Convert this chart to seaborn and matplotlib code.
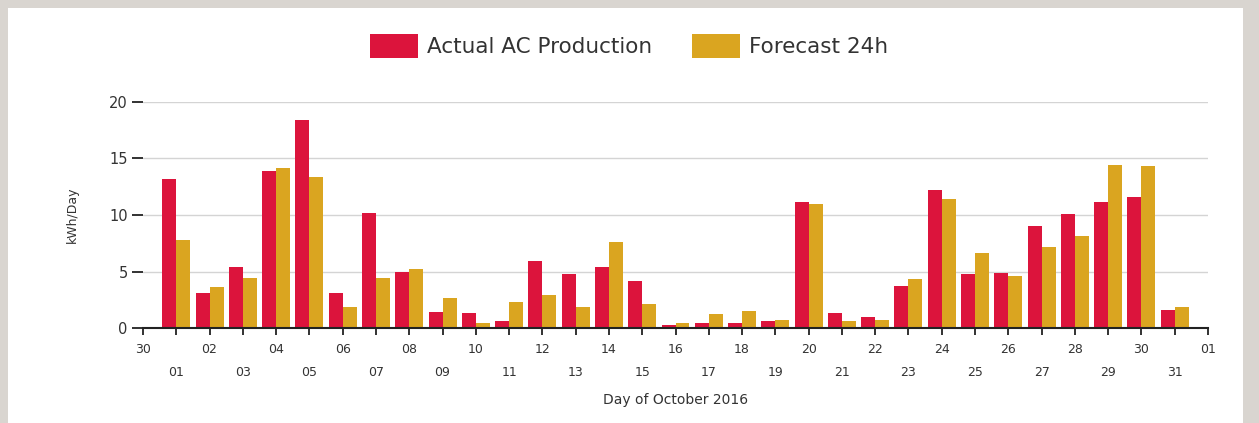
import pandas as pd
import matplotlib.pyplot as plt
import matplotlib.patches as mpatches
import seaborn as sns

# Datos diarios (octubre 2016)
days = list(range(1, 32))
actual = [13.2, 3.1, 5.4, 13.9, 18.4, 3.1, 10.2, 5.0, 1.4, 1.3,
          0.6, 5.95, 4.75, 5.4, 4.15, 0.3, 0.45, 0.45, 0.6, 11.15,
          1.3, 0.95, 3.7, 12.25, 4.75, 4.85, 9.0, 10.05, 11.15, 11.6, 1.55]
forecast = [7.75, 3.6, 4.45, 14.15, 13.35, 1.85, 4.45, 5.25, 2.65, 0.45,
            2.3, 2.95, 1.85, 7.6, 2.1, 0.45, 1.2, 1.5, 0.75, 11.0,
            0.6, 0.75, 4.3, 11.45, 6.6, 4.6, 7.2, 8.15, 14.45, 14.3, 1.85]
tick_labels = ["30"] + [f"{d:02d}" for d in days] + ["01"]

series_names = ["Actual AC Production", "Forecast 24h"]
colors = ["#DC143C", "#DAA520"]


def main():
    sns.set_style("white")
    plt.rcParams['font.family'] = ['DejaVu Sans']

    df = pd.DataFrame({
        "day": days * 2,
        "value": actual + forecast,
        "serie": [series_names[0]] * len(days) + [series_names[1]] * len(days),
    })

    fig = plt.figure(figsize=(12.59, 4.23), dpi=100, facecolor="#d9d5d0")
    # panel blanco detras de todo
    fig.patches.append(mpatches.Rectangle((8 / 1259, 0), 1235 / 1259, 415 / 423,
                                          transform=fig.transFigure,
                                          facecolor="white", edgecolor="none", zorder=-10))
    ax = fig.add_axes([143 / 1259, 1 - 328 / 423, (1208 - 143) / 1259, (328 - 102) / 423])
    ax.set_facecolor("none")
    ax.set_zorder(5)

    sns.barplot(data=df, x="day", y="value", hue="serie", palette=colors,
                native_scale=True, width=0.84, saturation=1, linewidth=0,
                edgecolor="none", ax=ax, legend=True)

    ax.set_xlim(0, 32)
    ax.set_ylim(0, 20)
    ax.set_yticks([0, 5, 10, 15, 20])
    ax.yaxis.grid(True, color="#d4d4d4", linewidth=1)
    ax.set_axisbelow(True)

    ax.set_xticks(range(0, 33))
    ax.set_xticklabels([lab if i % 2 == 0 else "\n" + lab for i, lab in enumerate(tick_labels)],
                       linespacing=2.0)
    ax.tick_params(axis="x", length=5, width=1.3, color="#222222", labelsize=9,
                   labelcolor="#333333", pad=6, bottom=True)
    ax.tick_params(axis="y", length=8, width=1.3, color="#222222", labelsize=10.5,
                   labelcolor="#333333", pad=3, left=True)

    for s in ["top", "right", "left"]:
        ax.spines[s].set_visible(False)
    ax.spines["bottom"].set_color("#222222")
    ax.spines["bottom"].set_linewidth(1.5)

    ax.set_xlabel("Day of October 2016", fontsize=10, color="#333333", labelpad=10)
    ax.set_ylabel("kWh/Day", fontsize=9, color="#333333", labelpad=22)

    handles, labels = ax.get_legend_handles_labels()
    ax.get_legend().remove()
    fig.legend(handles, labels, loc="center", bbox_to_anchor=(0.5, 1 - 46 / 423),
               ncol=2, frameon=False, fontsize=15.5, handlelength=2.2, handleheight=1.4,
               handletextpad=0.45, columnspacing=1.85, labelcolor="#333333")

    plt.savefig("out.png", dpi=100, facecolor=fig.get_facecolor())
    plt.close()


if __name__ == "__main__":
    main()
